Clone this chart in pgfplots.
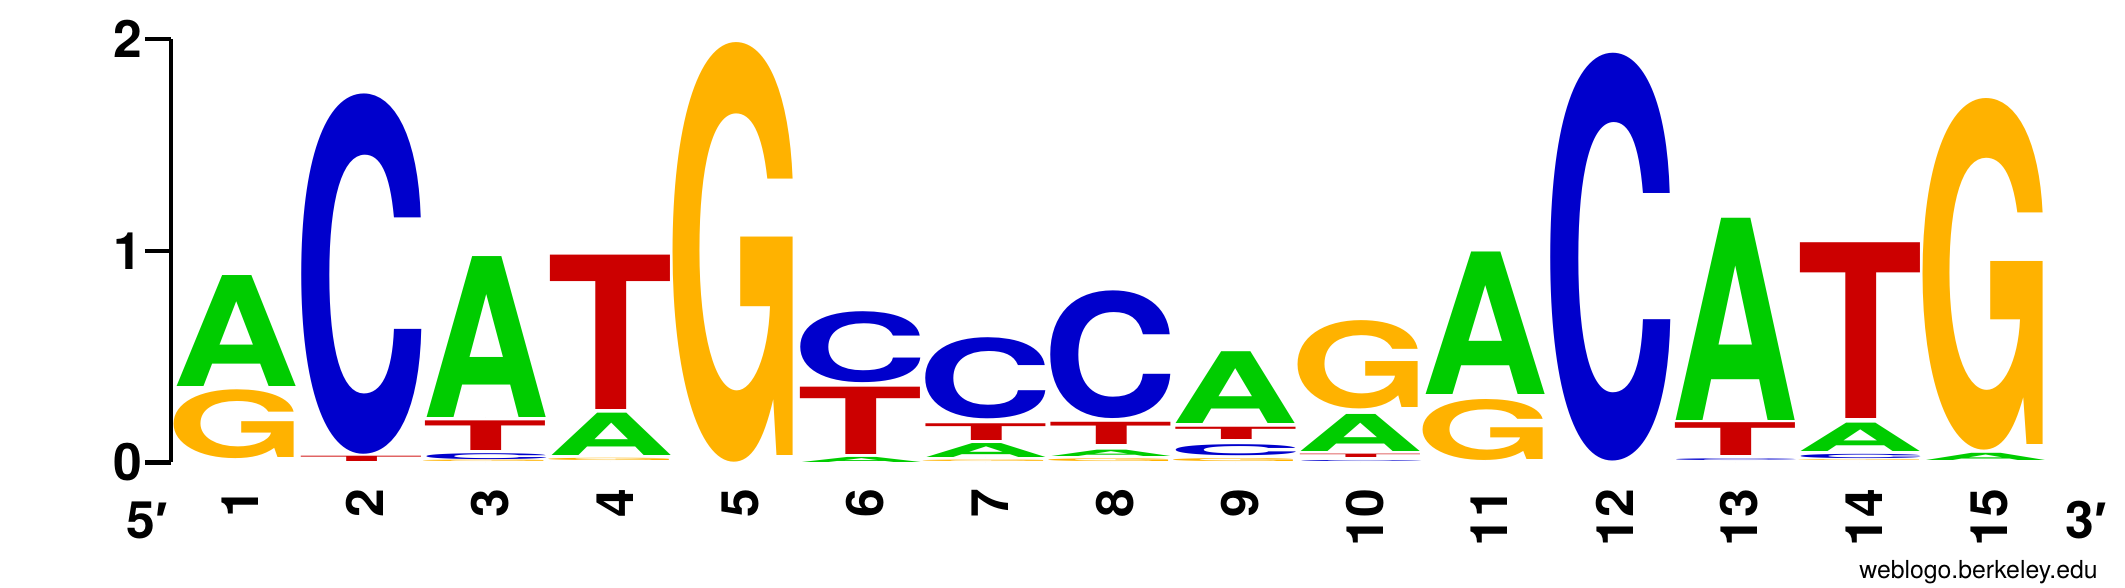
\documentclass[border=0pt]{standalone}
\usepackage{pgfplots}
\pgfplotsset{compat=1.18}
\usepackage{pgfplotstable}
\usepackage{graphicx}
\usepackage{fontspec}
\setmainfont{TeX Gyre Heros}
\newfontfamily\primefont{Liberation Sans}

\definecolor{colA}{rgb}{0,0.8,0}
\definecolor{colC}{rgb}{0,0,0.8}
\definecolor{colG}{rgb}{1,0.7,0}
\definecolor{colT}{rgb}{0.8,0,0}

% one bit in pt, same as y= of the axis
\newdimen\logounit \logounit=52.94pt

% position, bottom of letter, letter height (bits)
\pgfplotstableread{
x y h
1 0.36 0.524
3 0.214 0.76
4 0.033 0.2
6 0.0 0.024
7 0.022 0.066
8 0.03 0.03
9 0.186 0.339
10 0.052 0.175
11 0.32 0.673
13 0.2 0.955
14 0.052 0.134
15 0.01 0.034
}\tabA
\pgfplotstableread{
x y h
2 0.04 1.70
3 0.012 0.028
6 0.375 0.335
7 0.207 0.383
8 0.207 0.603
9 0.033 0.052
10 0.0 0.005
12 0.006 1.924
13 0.002 0.008
14 0.018 0.02
}\tabC
\pgfplotstableread{
x y h
1 0.02 0.325
3 0.0 0.007
4 0.003 0.011
5 0.0 1.98
7 0.0 0.007
8 0.0 0.013
9 0.0 0.014
10 0.254 0.417
11 0.01 0.288
14 0.0 0.004
15 0.057 1.659
}\tabG
\pgfplotstableread{
x y h
2 0.005 0.025
3 0.055 0.14
4 0.25 0.729
6 0.038 0.318
7 0.104 0.079
8 0.085 0.105
9 0.109 0.058
10 0.022 0.016
13 0.033 0.155
14 0.207 0.83
}\tabT

\pgfplotsset{
  logo/.style n args={3}{
    only marks, mark=*, mark size=0pt, mark options={draw=none,fill=none},
    point meta=explicit symbolic,
    nodes near coords={\resizebox*{#2}{\pgfplotspointmeta\logounit}{\textbf{#1}}},
    every node near coord/.append style={anchor=south, inner sep=0pt, outer sep=0pt, text=#3},
  },
}

\begin{document}
\begin{tikzpicture}
\begin{axis}[
  at={(42.75pt,31.375pt)}, anchor=south west,
  x=31.23pt, y=52.94pt,
  xmin=0.48, xmax=15.6, ymin=0, ymax=2,
  clip=false,
  axis lines=left,
  axis line style={-, line width=1.1pt},
  x axis line style={draw=none},
  xtick={1,...,15}, ytick={0,1,2},
  minor tick num=0,
  tick align=outside,
  major tick length=6.5pt,
  ytick style={line width=1.1pt, black},
  xtick style={draw=none},
  /pgf/number format/assume math mode=true,
  ticklabel style={font=\bfseries\fontsize{12.9}{14}\selectfont},
  yticklabel style={inner sep=0.5pt},
  xticklabel style={xshift=1.1pt, rotate=90, anchor=east, inner sep=0pt},
]
\addplot[logo={A}{31.75pt}{colA}] table[x=x, y=y, meta=h] {\tabA};
\addplot[logo={C}{33.8pt}{colC}] table[x=x, y=y, meta=h] {\tabC};
\addplot[logo={G}{34.9pt}{colG}] table[x=x, y=y, meta=h] {\tabG};
\addplot[logo={T}{31.4pt}{colT}] table[x=x, y=y, meta=h] {\tabT};

\node[anchor=base west, inner sep=0pt, font=\bfseries\fontsize{12.9}{14}\selectfont] at (axis cs:0.12,-0.3566) {5{\primefont′}};
\node[anchor=base west, inner sep=0pt, font=\bfseries\fontsize{12.9}{14}\selectfont] at (axis cs:15.64,-0.3566) {3{\primefont′}};
\node[anchor=base east, inner sep=0pt, font=\fontsize{6.2}{7}\selectfont] at (axis cs:15.91,-0.55) {weblogo.berkeley.edu};
\end{axis}
\pgfresetboundingbox
\path[use as bounding box] (0,0) rectangle (531.25pt,147pt);
\end{tikzpicture}
\end{document}
